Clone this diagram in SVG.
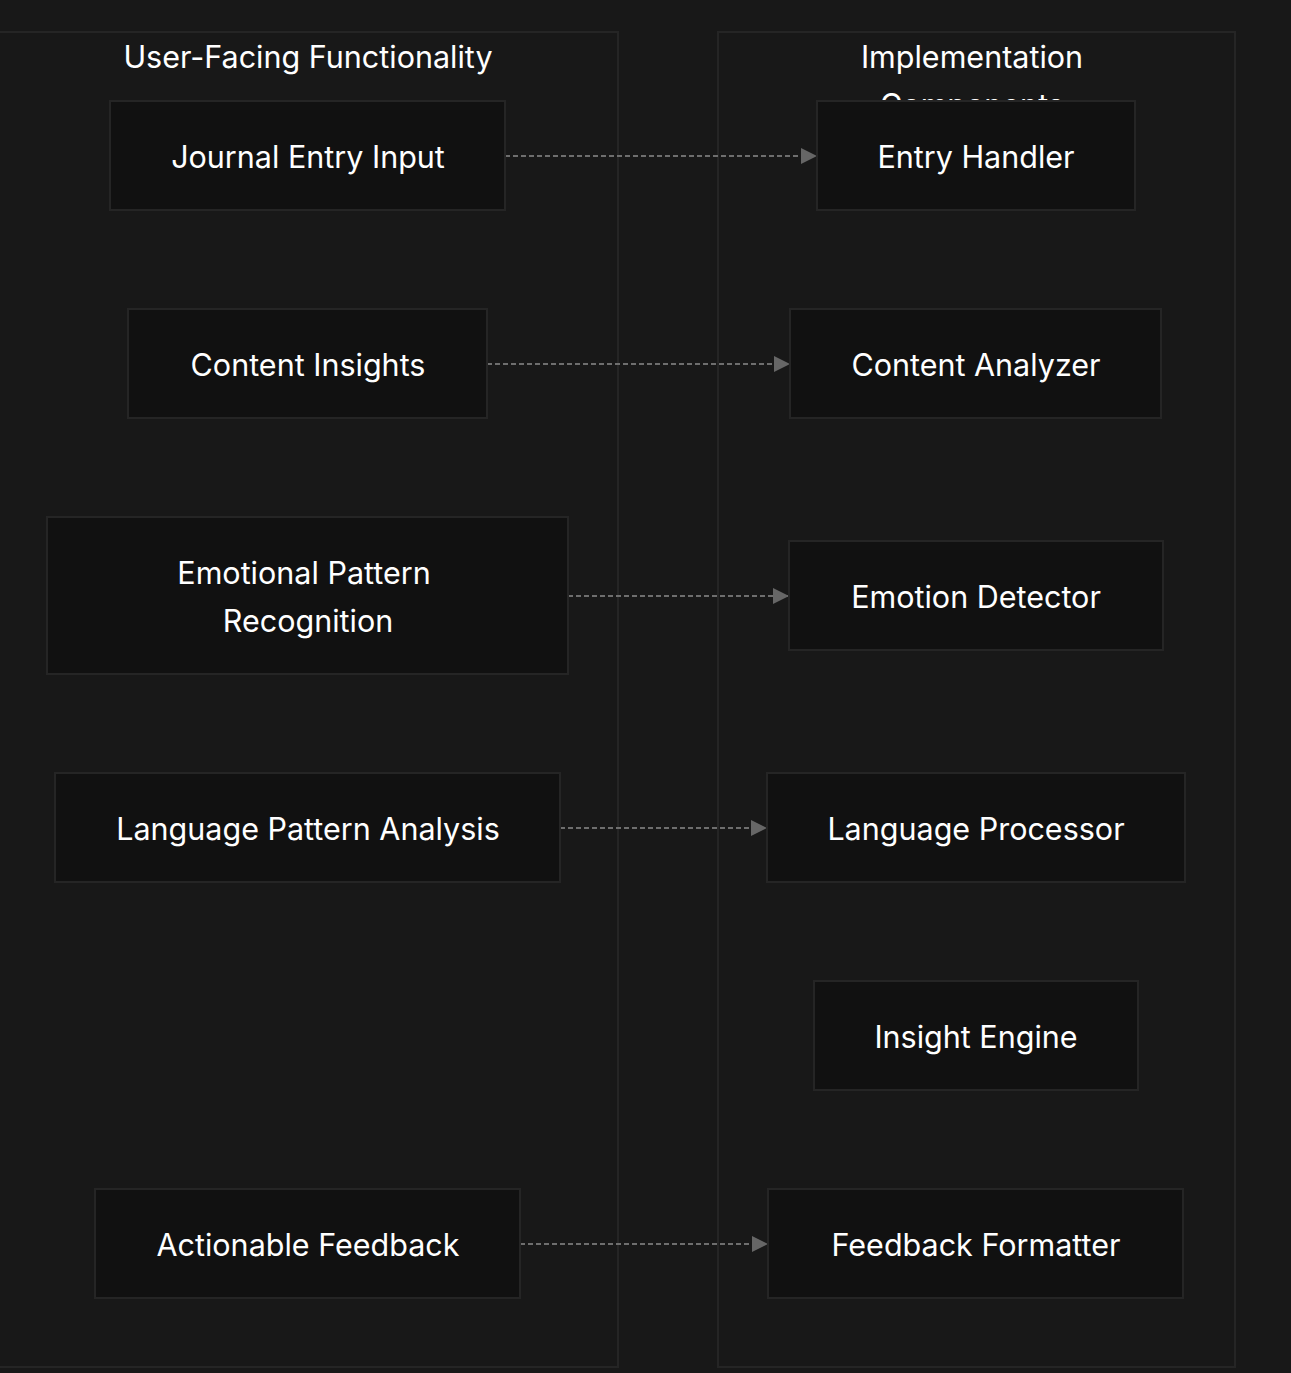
<svg xmlns="http://www.w3.org/2000/svg" width="1291" height="1373" viewBox="0 0 1291 1373">
  <style>
    .cluster { fill: #181818; stroke: #252525; stroke-width: 2; }
    .node rect { fill: #111111; stroke: #252525; stroke-width: 2; }
    text { font-family: Inter, "Noto Sans", sans-serif; font-size: 30.5px; fill: #ffffff; text-anchor: middle; }
    .edge { stroke: #6e6e6e; stroke-width: 2; stroke-dasharray: 5 3; fill: none; }
  </style>
  <defs>
    <marker id="arrow" viewBox="0 0 16 16" refX="16" refY="8" markerWidth="16" markerHeight="16" markerUnits="userSpaceOnUse" orient="auto">
      <path d="M0,0 L16,8 L0,16 Z" fill="#666666"/>
    </marker>
  </defs>
  <rect width="1291" height="1373" fill="#181818"/>

  <!-- subgraph frames -->
  <g id="cluster-user">
    <rect class="cluster" x="-2" y="32" width="620" height="1335"/>
    <text x="308" y="68">User-Facing Functionality</text>
  </g>
  <g id="cluster-impl">
    <rect class="cluster" x="718" y="32" width="517" height="1335"/>
    <text x="972" y="68">Implementation</text>
    <text x="972" y="116">Components</text>
  </g>

  <!-- connectors -->
  <g id="edges">
    <path class="edge" d="M505,156 L817,156" marker-end="url(#arrow)"/>
    <path class="edge" d="M487,364 L790,364" marker-end="url(#arrow)"/>
    <path class="edge" d="M568,596 L789,596" marker-end="url(#arrow)"/>
    <path class="edge" d="M560,828 L767,828" marker-end="url(#arrow)"/>
    <path class="edge" d="M520,1244 L768,1244" marker-end="url(#arrow)"/>
  </g>

  <!-- left column -->
  <g id="journal-entry-input" class="node">
    <rect x="110" y="101" width="395" height="109"/>
    <text x="308" y="168">Journal Entry Input</text>
  </g>
  <g id="content-insights" class="node">
    <rect x="128" y="309" width="359" height="109"/>
    <text x="308" y="376">Content Insights</text>
  </g>
  <g id="emotional-pattern-recognition" class="node">
    <rect x="47" y="517" width="521" height="157"/>
    <text x="304" y="584">Emotional Pattern</text>
    <text x="308" y="632">Recognition</text>
  </g>
  <g id="language-pattern-analysis" class="node">
    <rect x="55" y="773" width="505" height="109"/>
    <text x="308" y="840">Language Pattern Analysis</text>
  </g>
  <g id="actionable-feedback" class="node">
    <rect x="95" y="1189" width="425" height="109"/>
    <text x="308" y="1256">Actionable Feedback</text>
  </g>

  <!-- right column -->
  <g id="entry-handler" class="node">
    <rect x="817" y="101" width="318" height="109"/>
    <text x="976" y="168">Entry Handler</text>
  </g>
  <g id="content-analyzer" class="node">
    <rect x="790" y="309" width="371" height="109"/>
    <text x="976" y="376">Content Analyzer</text>
  </g>
  <g id="emotion-detector" class="node">
    <rect x="789" y="541" width="374" height="109"/>
    <text x="976" y="608">Emotion Detector</text>
  </g>
  <g id="language-processor" class="node">
    <rect x="767" y="773" width="418" height="109"/>
    <text x="976" y="840">Language Processor</text>
  </g>
  <g id="insight-engine" class="node">
    <rect x="814" y="981" width="324" height="109"/>
    <text x="976" y="1048">Insight Engine</text>
  </g>
  <g id="feedback-formatter" class="node">
    <rect x="768" y="1189" width="415" height="109"/>
    <text x="976" y="1256">Feedback Formatter</text>
  </g>
</svg>
